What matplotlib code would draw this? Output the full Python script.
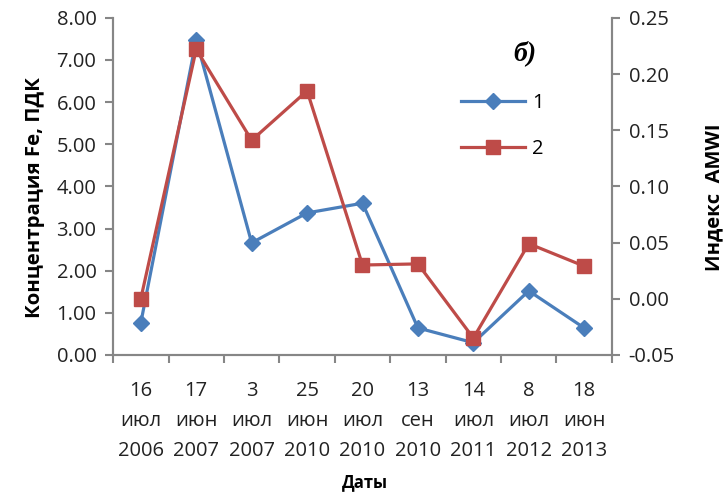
import matplotlib
matplotlib.use("Agg")
import matplotlib.pyplot as plt
import numpy as np

# даты отбора проб
days = ["16", "17", "3", "25", "20", "13", "14", "8", "18"]
months = ["июл", "июн", "июл", "июн", "июл", "сен", "июл", "июл", "июн"]
years = ["2006", "2007", "2007", "2010", "2010", "2010", "2011", "2012", "2013"]

# 1 - концентрация Fe, ПДК; 2 - индекс AMWI
fe_conc = [0.76, 7.48, 2.66, 3.37, 3.60, 0.64, 0.29, 1.52, 0.64]
amwi = [0.000, 0.222, 0.141, 0.185, 0.030, 0.031, -0.035, 0.049, 0.029]

blue = "#4A7EBB"
red = "#BE4B48"
gray = "#868686"

plt.rcParams["font.family"] = ["Open Sans", "DejaVu Sans"]

fig = plt.figure(figsize=(7.25, 4.95), dpi=100)
ax = fig.add_axes([0.156, 0.283, 0.688, 0.681])
ax2 = ax.twinx()

x = np.arange(len(days))
ax.plot(x, fe_conc, color=blue, lw=2.3, marker="D", ms=8.5, label="1", zorder=3)
ax2.plot(x, amwi, color=red, lw=2.3, marker="s", ms=10, label="2", zorder=2)

ax.set_xlim(-0.5, len(days) - 0.5)
ax.set_ylim(0, 8)
ax.set_yticks(np.arange(0, 8.01, 1))
ax.set_yticklabels(["%.2f" % v for v in np.arange(0, 8.01, 1)])
ax2.set_ylim(-0.05, 0.25)
ax2.set_yticks(np.arange(-0.05, 0.2501, 0.05))
ax2.set_yticklabels(["%.2f" % v for v in np.arange(-0.05, 0.2501, 0.05)])

ax.set_xticks(x)
ax.set_xticklabels([d + "\n" + m + "\n" + y for d, m, y in zip(days, months, years)],
                   linespacing=1.64)
ax.set_xticks(np.arange(-0.5, len(days), 1), minor=True)
ax.tick_params(axis="x", which="major", length=0, pad=19, labelsize=14.5, colors="#222222")
ax.tick_params(axis="x", which="minor", length=6, width=1.5, color=gray)
ax.tick_params(axis="y", length=6, width=1.5, color=gray, labelsize=14.5,
               labelcolor="#222222", pad=6)
ax2.tick_params(axis="y", length=6, width=1.5, color=gray, labelsize=14.5,
                labelcolor="#222222", pad=6)

for a in (ax, ax2):
    a.spines["top"].set_visible(False)
    for s in ("left", "right", "bottom"):
        a.spines[s].set_color(gray)
        a.spines[s].set_linewidth(1.5)

# подписи осей
fig.text(0.048, 0.6, "Концентрация Fe, ПДК", fontsize=14.7, fontweight="bold",
         rotation=90, ha="center", va="center")
fig.text(0.986, 0.602, "Индекс  AMWI", fontsize=14.5, fontweight="bold",
         rotation=90, ha="center", va="center")
fig.text(0.503, 0.026, "Даты", fontsize=12, fontweight="bold", ha="center", va="center")

fig.text(0.724, 0.893, "б)", fontsize=20, fontweight="bold", style="italic",
         family="Liberation Serif", ha="center", va="center")

h1, l1 = ax.get_legend_handles_labels()
h2, l2 = ax2.get_legend_handles_labels()
ax.legend(h1 + h2, l1 + l2, loc="center left", bbox_to_anchor=(0.661, 0.680),
          frameon=False, fontsize=14.5, handlelength=3.2, labelspacing=1.3,
          handletextpad=0.35)

fig.savefig("out.png", dpi=100)
